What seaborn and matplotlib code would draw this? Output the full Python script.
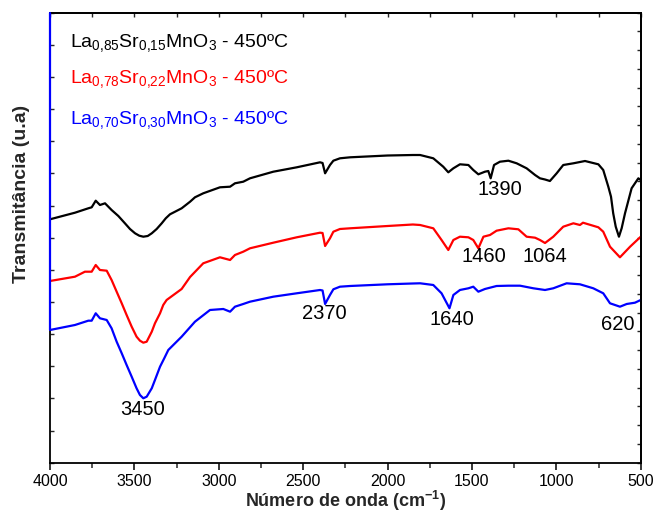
import numpy as np
import pandas as pd
import matplotlib
matplotlib.use("Agg")
import matplotlib.pyplot as plt
from matplotlib.ticker import MultipleLocator, NullFormatter
import seaborn as sns

# ---------------- data ----------------
wn_black = [4000, 3852, 3773, 3753, 3729, 3704, 3674, 3635, 3595, 3556, 3526, 3496, 3471, 3447, 3421,
            3397, 3368, 3338, 3314, 3289, 3259, 3220,
            3170, 3141, 3092, 2993, 2933, 2904, 2855, 2815, 2677, 2538, 2400, 2385, 2370, 2341, 2321,
            2282, 2222, 2000, 1850, 1807, 1729, 1670, 1640, 1610, 1571, 1521, 1492, 1462, 1423, 1403,
            1389, 1369, 1334, 1284, 1235, 1176, 1126, 1097, 1067, 1038, 998, 959, 899, 830, 751, 722,
            692, 676, 663, 648, 629, 613, 593, 554, 514, 500]
t_black = [243.4, 250.0, 254.4, 255.4, 262.0, 257.7, 259.4, 252.7, 246.7, 239.4, 233.7, 229.4, 227.0, 226.0, 226.7,
           229.4, 233.7, 239.4, 244.4, 248.4, 251.0, 254.4,
           261.0, 265.4, 269.4, 275.4, 276.0, 279.4, 281.0, 284.4, 291.0, 295.4, 300.4, 299.7, 289.4, 297.7, 302.0,
           304.4, 305.4, 307.2, 307.7, 307.7, 304.4, 296.0, 290.4, 294.4, 298.4, 297.7, 292.7, 288.4, 291.0, 291.7,
           284.4, 297.7, 301.0, 302.0, 299.4, 294.4, 287.7, 284.4, 283.2, 281.7, 289.4, 297.7, 299.4, 301.7, 298.4, 292.7,
           276.0, 266.0, 249.4, 236.0, 226.0, 234.4, 249.4, 274.4, 284.4, 282.7]

wn_red = [4000, 3852, 3793, 3753, 3729, 3704, 3664, 3635, 3605, 3575, 3546, 3516, 3487, 3467, 3447, 3427,
          3397, 3378, 3348, 3329, 3309, 3220,
          3170, 3092, 2993, 2933, 2904, 2855, 2815, 2677, 2538, 2400, 2385, 2370, 2341, 2321, 2282,
          2222, 2000, 1850, 1807, 1729, 1680, 1640, 1610, 1571, 1521, 1492, 1462, 1432, 1393, 1354,
          1284, 1225, 1176, 1126, 1097, 1067, 1018, 959, 899, 860, 842, 751, 722, 682, 623, 563, 500]
t_red = [181.7, 186.0, 191.0, 191.0, 197.7, 192.7, 192.0, 182.7, 171.0, 159.4, 147.7, 136.0, 126.0, 122.0, 120.0, 121.0,
         131.0, 139.4, 149.4, 157.7, 162.7, 173.7,
         185.7, 199.4, 205.4, 202.7, 207.7, 211.0, 214.4, 220.0, 225.4, 230.0, 229.7, 216.7, 224.4, 231.0, 233.7,
         234.4, 236.7, 238.2, 237.7, 234.4, 222.7, 212.7, 222.7, 226.0, 225.4, 222.7, 214.4, 226.0, 227.7, 232.0,
         234.4, 233.4, 226.0, 225.0, 222.7, 219.7, 226.0, 236.0, 239.4, 237.7, 240.0, 235.4, 231.0, 216.0, 205.4, 216.0, 226.0]

wn_blue = [4000, 3852, 3773, 3753, 3729, 3704, 3664, 3635, 3605, 3575, 3546, 3516, 3487, 3467, 3447, 3427,
           3397, 3378, 3348, 3323, 3299, 3220,
           3141, 3052, 2973, 2933, 2904, 2855, 2815, 2677, 2538, 2400, 2385, 2370, 2341, 2321, 2282,
           2222, 2000, 1850, 1807, 1729, 1680, 1633, 1610, 1571, 1521, 1492, 1462, 1423, 1354, 1284,
           1215, 1136, 1067, 1018, 939, 860, 781, 722, 682, 623, 583, 534, 500]
t_blue = [132.7, 137.7, 142.0, 142.0, 149.4, 144.4, 142.7, 134.4, 121.0, 109.4, 97.7, 86.0, 74.4, 67.7, 64.4, 66.0,
          74.4, 82.7, 96.0, 104.4, 112.7, 126.0,
          141.0, 152.7, 153.7, 151.0, 156.0, 158.7, 161.0, 166.0, 169.4, 172.7, 172.2, 158.7, 167.7, 173.4, 176.0,
          176.7, 178.4, 179.2, 179.4, 177.7, 169.4, 154.4, 167.7, 172.7, 174.4, 176.0, 171.0, 173.7, 176.7, 177.0,
          177.0, 174.4, 172.7, 174.4, 179.4, 178.4, 174.4, 169.4, 159.4, 156.0, 158.7, 160.0, 162.7]

series_names = ["La0,85Sr0,15MnO3", "La0,78Sr0,22MnO3", "La0,70Sr0,30MnO3"]
series_labels = [r"$\mathregular{La_{0{,}85}Sr_{0{,}15}MnO_3}$ - 450ºC",
                 r"$\mathregular{La_{0{,}78}Sr_{0{,}22}MnO_3}$ - 450ºC",
                 r"$\mathregular{La_{0{,}70}Sr_{0{,}30}MnO_3}$ - 450ºC"]
colors = ["#000000", "#ff0000", "#0000ff"]

peak_labels = ["3450", "2370", "1640", "1390", "1460", "1064", "620"]
peak_text_x = [3449, 2376, 1618, 1337, 1428, 1067, 635]
peak_text_y = [52.7, 148.7, 142.7, 273.7, 205.7, 205.7, 137.7]

# ---------------- build long table ----------------
frames = []
for name, wn, t in zip(series_names, [wn_black, wn_red, wn_blue], [t_black, t_red, t_blue]):
    frames.append(pd.DataFrame({"wn": wn, "T": t, "amostra": name}))
df = pd.concat(frames, ignore_index=True)

sns.set_theme(style="ticks")
plt.rcParams["font.family"] = ["Liberation Sans", "DejaVu Sans"]
plt.rcParams["mathtext.fontset"] = "custom"
plt.rcParams["mathtext.rm"] = "Liberation Sans"
plt.rcParams["mathtext.bf"] = "Liberation Sans:bold"

fig = plt.figure(figsize=(6.56, 5.15), dpi=100)
ax = fig.add_axes([0.0762, 0.1016, 0.9005, 0.8737])

sns.lineplot(data=df, x="wn", y="T", hue="amostra", palette=colors, estimator=None,
             linewidth=1.6, legend=False, ax=ax)

ax.set_xlim(4000, 500)
ax.set_ylim(0, 450)

# blue segment on the left spine (artifact of the original)
ax.plot([wn_blue[0], wn_blue[0]], [t_blue[0], 450], color=colors[2], lw=1.6, clip_on=False, zorder=5)

# ticks
ax.xaxis.set_major_locator(MultipleLocator(500))
ax.xaxis.set_minor_locator(MultipleLocator(250))
ax.tick_params(axis="x", which="major", direction="out", length=5, width=1.1, labelsize=11.5,
               pad=3, colors="black")
ax.tick_params(axis="x", which="minor", direction="out", length=3.5, width=1.1)
ax.yaxis.set_major_locator(MultipleLocator(450 / 14))
ax.yaxis.set_major_formatter(NullFormatter())
ax.tick_params(axis="y", which="major", direction="in", length=3, width=1.0, left=True)

top = ax.secondary_xaxis("top")
top.xaxis.set_major_locator(MultipleLocator(250))
top.tick_params(direction="in", length=3, width=1.0, labeltop=False)
top.xaxis.set_major_formatter(NullFormatter())

right = ax.secondary_yaxis("right")
right.yaxis.set_major_locator(MultipleLocator(450 / 24))
right.tick_params(direction="in", length=3, width=1.0, labelright=False)
right.yaxis.set_major_formatter(NullFormatter())

for sp in list(ax.spines.values()) + [top.spines["top"], right.spines["right"]]:
    sp.set_linewidth(1.3)
    sp.set_color("black")

ax.set_xlabel(r"Número de onda (cm$^{\mathbf{-1}}$)", fontsize=13, fontweight="bold", labelpad=0)
ax.set_ylabel("Transmitância (u.a)", fontsize=14, fontweight="bold")
ax.yaxis.set_label_coords(-0.033, 0.597)

# series labels
label_y = [0.924, 0.843, 0.753]
for lab, c, yy in zip(series_labels, colors, label_y):
    ax.text(0.034, yy, lab, color=c, fontsize=14, transform=ax.transAxes, va="baseline", ha="left")

# peak annotations
for lab, xx, yy in zip(peak_labels, peak_text_x, peak_text_y):
    ax.text(xx, yy, lab, fontsize=14.5, ha="center", va="center", color="black")

fig.savefig("out.png", dpi=100)
